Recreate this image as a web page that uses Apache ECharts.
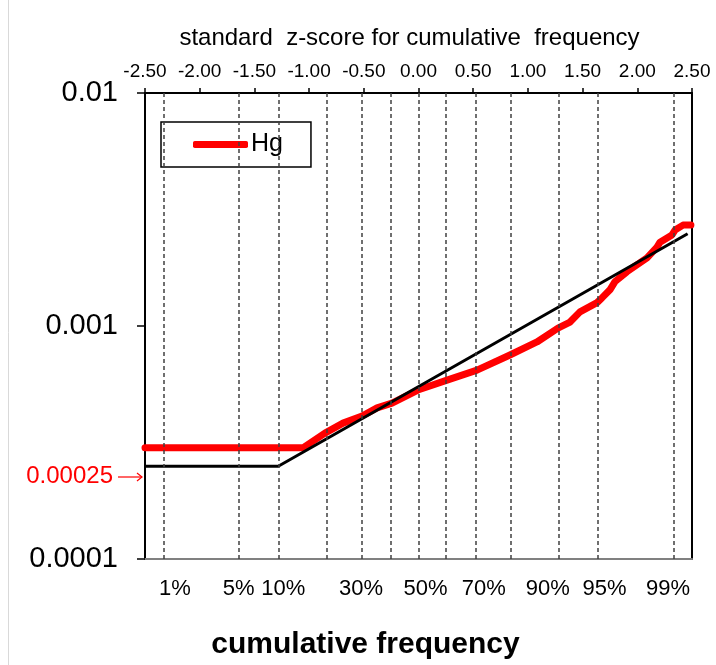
<!DOCTYPE html>
<html>
<head>
<meta charset="utf-8">
<script src="https://cdn.jsdelivr.net/npm/echarts@6/dist/echarts.min.js"></script>
<style>html,body{margin:0;padding:0;background:#fff}#c{width:716px;height:665px}</style>
</head>
<body>
<div id="c"></div>
<script>
// ---- data ----
const topTicks = [-2.5, -2, -1.5, -1, -0.5, 0, 0.5, 1, 1.5, 2, 2.5];
const pctAll = [1, 5, 10, 20, 30, 40, 50, 60, 70, 80, 90, 95, 99];
const pctZ = [-2.3263, -1.6449, -1.2816, -0.8416, -0.5244, -0.2533, 0, 0.2533, 0.5244, 0.8416, 1.2816, 1.6449, 2.3263];
const pctLabeled = [1, 5, 10, 30, 50, 70, 90, 95, 99];
const yTickValues = [0.0001, 0.001, 0.01];
const yTickLabels = ['0.0001', '0.001', '0.01'];

const hgZ = [-2.5, -1.056, -0.855, -0.690, -0.516, -0.379, -0.242, -0.005, 0.261, 0.535, 0.836, 1.083, 1.275, 1.385, 1.476, 1.632, 1.677, 1.750, 1.796, 1.906, 2.089, 2.180, 2.208, 2.317, 2.345, 2.418, 2.49];
const hgVal = [0.00030, 0.00030, 0.000347, 0.000383, 0.000411, 0.000445, 0.000467, 0.000531, 0.000586, 0.000647, 0.000751, 0.000854, 0.00098, 0.00104, 0.00115, 0.00126, 0.00132, 0.00143, 0.00155, 0.00171, 0.00196, 0.00218, 0.00229, 0.00246, 0.00258, 0.00271, 0.00271];

const fitZ = [-2.5, -1.2816, 2.46];
const fitVal = [0.00025, 0.00025, 0.00249];

const refLineValue = 0.001;
const annotationText = '0.00025';

// ---- chart ----
const FONT = 'Liberation Sans, Arial, sans-serif';
const chart = echarts.init(document.getElementById('c'), null, {renderer: 'canvas'});

const labeledZ = pctLabeled.map(p => pctZ[pctAll.indexOf(p)]);
// horizontal nudges (px) of the bottom percent labels, as in the original layout
const labelShift = {1: 11, 5: 0, 10: 5, 30: 0, 50: 7, 70: 8, 90: -11, 95: 6, 99: -5};
const pctRich = {};
pctLabeled.forEach(p => {
  const s = labelShift[p] || 0;
  pctRich['p' + p] = {
    fontFamily: FONT, fontSize: 22, color: '#000',
    padding: s >= 0 ? [0, 0, 0, 2 * s] : [0, -2 * s, 0, 0]
  };
});

chart.setOption({
  animation: false,
  backgroundColor: '#fff',
  grid: {left: 145, right: 24, top: 93, bottom: 106, containLabel: false, outerBoundsMode: 'none'},
  legend: {
    show: true,
    left: 161, top: 122,
    orient: 'horizontal',
    backgroundColor: '#fff',
    borderColor: '#000',
    borderWidth: 1.5,
    borderRadius: 0,
    padding: [10, 28, 10, 32],
    itemWidth: 55,
    itemHeight: 7,
    itemGap: 5,
    data: [{name: 'Hg', icon: 'roundRect'}],
    textStyle: {fontFamily: FONT, fontSize: 25, color: '#000', padding: [0, 0, 0, -2]}
  },
  xAxis: [
    {
      type: 'value', position: 'top', min: -2.5, max: 2.5, interval: 0.5,
      name: 'standard  z-score for cumulative  frequency',
      nameLocation: 'middle', nameGap: 43,
      nameTextStyle: {fontFamily: FONT, fontSize: 24, color: '#000', padding: [0, 18, 0, 0]},
      axisLine: {show: true, onZero: false, lineStyle: {color: '#000', width: 2}},
      axisTick: {show: true, inside: false, length: 5, lineStyle: {color: '#000', width: 1.5}},
      axisLabel: {show: true, margin: 12, fontFamily: FONT, fontSize: 19, color: '#000',
        formatter: v => v.toFixed(2)},
      splitLine: {show: false}
    },
    {
      type: 'value', position: 'bottom', min: -2.5, max: 2.5,
      name: 'cumulative frequency',
      nameLocation: 'middle', nameGap: 71,
      nameTextStyle: {fontFamily: FONT, fontSize: 30, fontWeight: 'bold', color: '#000', padding: [0, 106, 0, 0]},
      axisLine: {show: true, onZero: false, lineStyle: {color: '#808080', width: 2}},
      axisTick: {show: false},
      axisLabel: {show: true, margin: 19, fontFamily: FONT, fontSize: 22, color: '#000',
        customValues: labeledZ,
        rich: pctRich,
        formatter: v => {
          const i = pctZ.findIndex(z => Math.abs(z - v) < 1e-6);
          if (i < 0) return '';
          const p = pctAll[i];
          return '{p' + p + '|' + p + '%}';
        }},
      splitLine: {show: false}
    }
  ],
  yAxis: [
    {
      type: 'log', logBase: 10, min: 0.0001, max: 0.01, position: 'left',
      axisLine: {show: true, onZero: false, lineStyle: {color: '#000', width: 2}},
      axisTick: {show: true, inside: false, length: 8, lineStyle: {color: '#000', width: 1.5}},
      axisLabel: {show: true, margin: 27, fontFamily: FONT, fontSize: 29, color: '#000',
        formatter: v => {
          const i = yTickValues.findIndex(t => Math.abs(Math.log10(t) - Math.log10(v)) < 1e-6);
          return i >= 0 ? yTickLabels[i] : '';
        }},
      splitLine: {show: false},
      minorTick: {show: false}
    },
    {
      type: 'log', logBase: 10, min: 0.0001, max: 0.01, position: 'right',
      axisLine: {show: true, onZero: false, lineStyle: {color: '#000', width: 2}},
      axisTick: {show: false},
      axisLabel: {show: false},
      splitLine: {show: false}
    }
  ],
  series: [
    {
      name: 'grid',
      type: 'line',
      xAxisIndex: 0, yAxisIndex: 0,
      data: [],
      silent: true,
      markLine: {
        silent: true,
        symbol: ['none', 'none'],
        label: {show: false},
        animation: false,
        data: pctZ.map(z => ({xAxis: z, lineStyle: {color: '#404040', width: 1.5, type: [4, 3]}}))
          .concat([{yAxis: refLineValue, lineStyle: {color: '#000', width: 1.2, type: 'solid'}}])
      }
    },
    {
      name: 'Hg',
      type: 'line',
      xAxisIndex: 0, yAxisIndex: 0,
      data: hgZ.map((z, i) => [z, hgVal[i]]),
      showSymbol: false,
      symbol: 'none',
      color: '#ff0000',
      lineStyle: {color: '#ff0000', width: 7, cap: 'round', join: 'round'},
      z: 3
    },
    {
      name: 'fit',
      type: 'line',
      xAxisIndex: 0, yAxisIndex: 0,
      data: fitZ.map((z, i) => [z, fitVal[i]]),
      showSymbol: false,
      symbol: 'none',
      color: '#000',
      lineStyle: {color: '#000', width: 3},
      z: 4
    }
  ],
  graphic: [
    {
      type: 'line', silent: true,
      shape: {x1: 8.5, y1: 0, x2: 8.5, y2: 665},
      style: {stroke: '#d9d9d9', lineWidth: 1}
    },
    {
      type: 'text', silent: true,
      x: 113, y: 476,
      style: {text: annotationText, fill: '#ff0000', font: '24px ' + FONT, align: 'right', verticalAlign: 'middle'}
    },
    {
      type: 'line', silent: true,
      shape: {x1: 118, y1: 477, x2: 142, y2: 477},
      style: {stroke: '#ff0000', lineWidth: 1.2}
    },
    {
      type: 'polyline', silent: true,
      shape: {points: [[137, 473], [142, 477], [137, 481]]},
      style: {stroke: '#ff0000', lineWidth: 1.2, fill: null}
    }
  ]
});
</script>
</body>
</html>
